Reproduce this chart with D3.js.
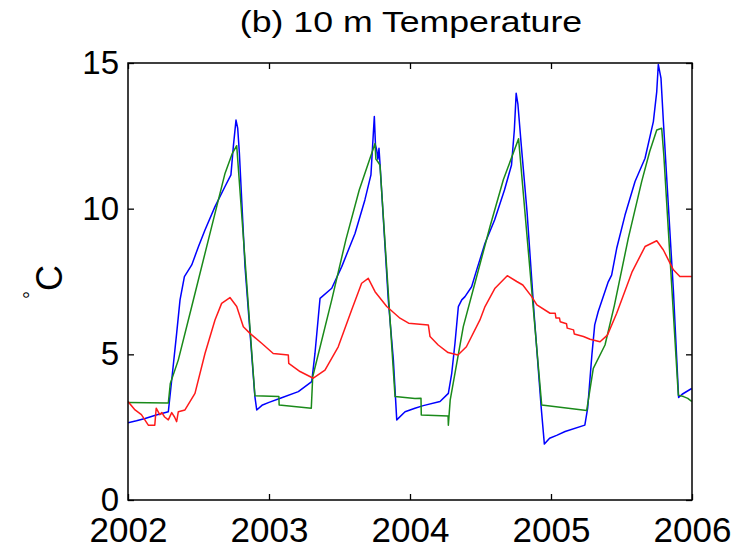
<!DOCTYPE html>
<html>
<head>
<meta charset="utf-8">
<script src="https://cdn.jsdelivr.net/npm/d3@7"></script>
<style>
  html, body { margin: 0; padding: 0; background: #fff; }
  svg { display: block; }
  text { font-family: Arial, "Liberation Sans", sans-serif; fill: #000; }
</style>
</head>
<body>
<svg id="chart" width="738" height="548"></svg>
<script>
// 10 m temperature records, [decimal year, °C]
const blueSeries = [
  [2002.000, 2.65], [2002.060, 2.72], [2002.121, 2.80], [2002.200, 2.92], [2002.286, 3.03],
  [2002.310, 4.12], [2002.345, 5.72], [2002.369, 6.87], [2002.400, 7.67], [2002.452, 8.07],
  [2002.500, 8.70], [2002.546, 9.27], [2002.617, 10.07], [2002.688, 10.76], [2002.730, 11.16],
  [2002.747, 12.13], [2002.766, 13.04], [2002.778, 12.76], [2002.790, 11.90], [2002.830, 8.00],
  [2002.900, 3.55], [2002.913, 3.09], [2002.950, 3.25], [2003.000, 3.35], [2003.085, 3.50],
  [2003.208, 3.72], [2003.303, 4.06], [2003.326, 5.03], [2003.350, 6.29], [2003.362, 6.92],
  [2003.445, 7.27], [2003.516, 8.01], [2003.610, 9.15], [2003.680, 10.30], [2003.723, 11.16],
  [2003.740, 12.59], [2003.747, 13.16], [2003.755, 12.20], [2003.764, 12.01], [2003.772, 11.70],
  [2003.780, 12.07], [2003.787, 11.56], [2003.846, 6.87], [2003.882, 4.81], [2003.906, 2.75],
  [2003.965, 3.03], [2004.035, 3.15], [2004.094, 3.24], [2004.213, 3.38], [2004.272, 3.66],
  [2004.296, 4.35], [2004.319, 5.38], [2004.343, 6.64], [2004.367, 6.87], [2004.390, 6.98],
  [2004.437, 7.32], [2004.473, 7.90], [2004.532, 8.81], [2004.600, 9.61], [2004.670, 10.64],
  [2004.720, 11.50], [2004.740, 12.70], [2004.753, 13.96], [2004.765, 13.60], [2004.790, 12.13],
  [2004.830, 9.90], [2004.880, 6.40], [2004.930, 3.20], [2004.953, 1.92], [2004.990, 2.12],
  [2005.040, 2.22], [2005.100, 2.35], [2005.240, 2.57], [2005.260, 3.15], [2005.290, 4.98],
  [2005.310, 6.01], [2005.335, 6.47], [2005.406, 7.49], [2005.430, 7.72], [2005.466, 8.64],
  [2005.525, 9.78], [2005.596, 10.93], [2005.667, 11.73], [2005.726, 12.99], [2005.750, 14.02],
  [2005.761, 14.95], [2005.780, 14.48], [2005.797, 12.99], [2005.832, 10.13], [2005.868, 7.20],
  [2005.905, 3.52], [2005.930, 3.63], [2005.998, 3.83]
];

const greenSeries = [
  [2002.000, 3.35], [2002.286, 3.33], [2002.300, 4.00], [2002.357, 4.81], [2002.452, 6.64],
  [2002.570, 8.93], [2002.688, 11.21], [2002.740, 11.90], [2002.771, 12.16], [2002.900, 3.58],
  [2003.070, 3.55], [2003.072, 3.26], [2003.300, 3.15], [2003.310, 4.23], [2003.445, 6.87],
  [2003.545, 8.93], [2003.640, 10.64], [2003.752, 12.24], [2003.758, 11.70], [2003.772, 11.61],
  [2003.787, 11.50], [2003.894, 3.55], [2004.035, 3.48], [2004.078, 3.49], [2004.080, 2.92],
  [2004.270, 2.88], [2004.272, 2.57], [2004.285, 3.43], [2004.378, 5.95], [2004.473, 7.67],
  [2004.567, 9.38], [2004.662, 10.99], [2004.770, 12.40], [2004.934, 3.26], [2005.253, 3.07],
  [2005.300, 4.52], [2005.383, 5.32], [2005.450, 6.69], [2005.548, 8.98], [2005.643, 10.93],
  [2005.700, 11.96], [2005.750, 12.70], [2005.785, 12.76], [2005.800, 11.84], [2005.903, 3.60],
  [2005.940, 3.55], [2005.970, 3.49], [2005.998, 3.38]
];

const redSeries = [
  [2002.000, 3.38], [2002.050, 3.09], [2002.095, 2.93], [2002.144, 2.57], [2002.190, 2.57],
  [2002.200, 3.15], [2002.225, 2.93], [2002.240, 3.00], [2002.260, 2.85], [2002.286, 2.75],
  [2002.310, 3.00], [2002.330, 2.85], [2002.345, 2.69], [2002.357, 3.03], [2002.404, 3.09],
  [2002.475, 3.66], [2002.546, 5.03], [2002.617, 6.18], [2002.664, 6.75], [2002.723, 6.95],
  [2002.771, 6.64], [2002.818, 5.95], [2002.865, 5.72], [2002.948, 5.38], [2003.030, 5.03],
  [2003.137, 4.98], [2003.140, 4.69], [2003.220, 4.41], [2003.314, 4.18], [2003.397, 4.46],
  [2003.491, 5.26], [2003.586, 6.52], [2003.657, 7.44], [2003.704, 7.61], [2003.752, 7.15],
  [2003.835, 6.64], [2003.929, 6.24], [2003.990, 6.07], [2004.130, 6.01], [2004.142, 5.61],
  [2004.200, 5.32], [2004.270, 5.06], [2004.340, 4.98], [2004.400, 5.26], [2004.496, 6.18],
  [2004.532, 6.64], [2004.603, 7.27], [2004.690, 7.70], [2004.757, 7.50], [2004.800, 7.38],
  [2004.863, 6.98], [2004.900, 6.70], [2004.993, 6.41], [2005.030, 6.41], [2005.035, 6.25],
  [2005.060, 6.25], [2005.065, 6.12], [2005.110, 6.05], [2005.115, 5.90], [2005.160, 5.84],
  [2005.165, 5.70], [2005.230, 5.61], [2005.277, 5.52], [2005.348, 5.43], [2005.400, 5.66],
  [2005.466, 6.41], [2005.576, 7.84], [2005.667, 8.70], [2005.750, 8.90], [2005.797, 8.58],
  [2005.868, 7.90], [2005.914, 7.67], [2005.998, 7.67]
];

const xTicks = [2002, 2003, 2004, 2005, 2006];
const yTicks = [0, 5, 10, 15];
const titleText = "(b) 10 m Temperature";

const margin = { left: 128, right: 46, top: 63, bottom: 48 };
const W = 738, H = 548;
const svg = d3.select("#chart");

const x = d3.scaleLinear().domain([2002, 2006]).range([margin.left, W - margin.right]);
const y = d3.scaleLinear().domain([0, 15]).range([H - margin.bottom, margin.top]);

const line = d3.line().x(d => x(d[0])).y(d => y(d[1]));

// clip traces to the axes box
svg.append("defs").append("clipPath").attr("id", "plotClip")
  .append("rect")
  .attr("x", x(2002)).attr("y", y(15))
  .attr("width", x(2006) - x(2002)).attr("height", y(0) - y(15));

const traces = svg.append("g").attr("clip-path", "url(#plotClip)");
[[blueSeries, "#0000ff"], [greenSeries, "#1a8a1a"], [redSeries, "#ff1a1a"]].forEach(([data, col]) => {
  traces.append("path")
    .datum(data)
    .attr("d", line)
    .attr("fill", "none")
    .attr("stroke", col)
    .attr("stroke-width", 1.5)
    .attr("stroke-linejoin", "round");
});

// axes: inward ticks on all four sides, MATLAB-style box
const tickLen = 6;
const axisStyle = g => {
  g.select(".domain").remove();
  g.selectAll(".tick line").attr("stroke", "#000").attr("stroke-width", 1.3);
  g.selectAll(".tick text").style("font-family", "Arial, 'Liberation Sans', sans-serif").attr("fill", "#000");
};

svg.append("g")
  .attr("transform", `translate(0,${y(0)})`)
  .call(d3.axisBottom(x).tickValues(xTicks).tickFormat(d3.format("d")).tickSizeInner(-tickLen).tickSizeOuter(0).tickPadding(17))
  .call(axisStyle)
  .call(g => g.selectAll(".tick text").attr("font-size", 35).attr("dy", "0.71em"));

svg.append("g")
  .attr("transform", `translate(0,${y(15)})`)
  .call(d3.axisTop(x).tickValues(xTicks).tickFormat("").tickSizeInner(-tickLen).tickSizeOuter(0))
  .call(axisStyle);

svg.append("g")
  .attr("transform", `translate(${x(2002)},0)`)
  .call(d3.axisLeft(y).tickValues(yTicks).tickFormat(d3.format("d")).tickSizeInner(-tickLen).tickSizeOuter(0).tickPadding(9))
  .call(axisStyle)
  .call(g => g.selectAll(".tick text").attr("font-size", 33));

svg.append("g")
  .attr("transform", `translate(${x(2006)},0)`)
  .call(d3.axisRight(y).tickValues(yTicks).tickFormat("").tickSizeInner(-tickLen).tickSizeOuter(0))
  .call(axisStyle);

svg.append("rect")
  .attr("x", x(2002)).attr("y", y(15))
  .attr("width", x(2006) - x(2002)).attr("height", y(0) - y(15))
  .attr("fill", "none").attr("stroke", "#000").attr("stroke-width", 1.5);

// title
svg.append("text")
  .attr("transform", `translate(${(x(2002) + x(2006)) / 2 + 1},32) scale(1.23,1)`)
  .attr("text-anchor", "middle")
  .attr("font-size", 29)
  .text(titleText);

// y-axis label: degree sign raised before C
const yl = svg.append("text")
  .attr("transform", "translate(62,282) rotate(-90)")
  .attr("text-anchor", "middle")
  .attr("font-size", 36);
yl.append("tspan").attr("font-size", 20).attr("dy", -24).text("°");
yl.append("tspan").attr("dy", 24).text("C");
</script>
</body>
</html>
